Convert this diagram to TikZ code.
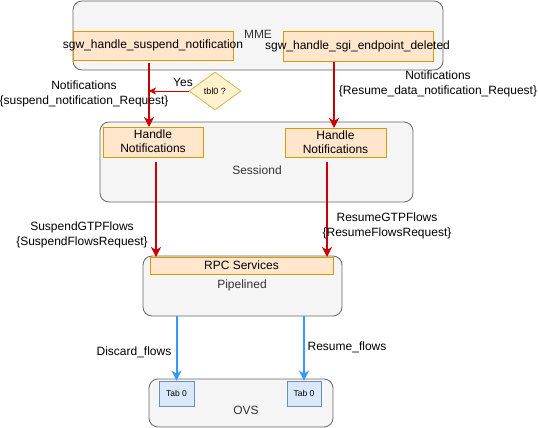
\documentclass[tikz,border=0pt]{standalone}
\usepackage{fontspec}
\setmainfont{Liberation Sans}
\usetikzlibrary{arrows.meta,shapes.geometric}
\definecolor{ofill}{HTML}{FFE6CC}
\definecolor{odraw}{HTML}{D79B00}
\definecolor{gfill}{HTML}{F5F5F5}
\definecolor{gdraw}{HTML}{666666}
\definecolor{gtext}{HTML}{333333}
\definecolor{yfill}{HTML}{FFF2CC}
\definecolor{ydraw}{HTML}{D6B656}
\definecolor{bfill}{HTML}{DAE8FC}
\definecolor{bdraw}{HTML}{6C8EBF}
\definecolor{redc}{HTML}{CC0000}
\definecolor{bluec}{HTML}{3399FF}
\tikzset{
  container/.style={draw=gdraw, fill=gfill, rounded corners=9pt, line width=0.8pt, inner sep=0pt},
  obox/.style={draw=odraw, fill=ofill, line width=0.8pt, inner sep=0pt},
  tabbox/.style={draw=bdraw, fill=bfill, line width=0.8pt, inner sep=0pt, font=\fontsize{8.5}{10}\selectfont},
  txt/.style={inner sep=0pt, font=\fontsize{12}{14}\selectfont, align=center},
  gtxt/.style={txt, text=gtext},
  lbl/.style={inner sep=0pt, font=\fontsize{12}{15}\selectfont, align=center},
  redarrow/.style={draw=redc, line width=2pt, -{Stealth[length=10pt,width=10pt,inset=3pt]}},
  bluearrow/.style={draw=bluec, line width=2pt, -{Stealth[length=10pt,width=10pt,inset=3pt]}},
  thinred/.style={draw=redc, line width=1pt, -{Stealth[length=7pt,width=7pt,inset=2pt]}},
  decision/.style={diamond, draw=ydraw, fill=yfill, line width=0.8pt, inner sep=0pt, aspect=1.37, minimum width=52pt, minimum height=38pt, font=\fontsize{9}{10}\selectfont}
}
\begin{document}
\begin{tikzpicture}[x=1pt,y=-1pt]
\useasboundingbox (0,0) rectangle (538,428);
% MME
\node[container, minimum width=370pt, minimum height=69pt] (mme) at (258,35.5) {};
\node[gtxt] (mmet) at (258,34) {MME};
\node[obox, minimum width=160pt, minimum height=29pt] (susp) at (153,45.5) {};
\node[txt] (suspt) at (153,45.5) {sgw\_handle\_suspend\_notification};
\node[obox, minimum width=150pt, minimum height=30pt] (sgi) at (358,46) {};
\node[txt] (sgit) at (357.5,46) {sgw\_handle\_sgi\_endpoint\_deleted};
% decision
\node[decision] (dia) at (215,91) {tbl0 ?};
% Sessiond
\node[container, minimum width=313pt, minimum height=80pt] (sess) at (256.5,162) {};
\node[gtxt] (sesst) at (257,170) {Sessiond};
\node[obox, minimum width=100pt, minimum height=30pt] (hn1) at (153,142) {};
\node[txt] (hn1t) at (153,141.5) {Handle\\Notifications};
\node[obox, minimum width=101pt, minimum height=29pt] (hn2) at (335.5,142.5) {};
\node[txt] (hn2t) at (335.5,142) {Handle\\Notifications};
% Pipelined
\node[container, minimum width=199pt, minimum height=60pt] (pip) at (242.5,286) {};
\node[obox, minimum width=183pt, minimum height=17pt] (rpc) at (241.5,265.5) {};
\node[txt] (rpct) at (241.5,265.5) {RPC Services};
\node[gtxt] (pipt) at (242,285) {Pipelined};
% OVS
\node[container, minimum width=184pt, minimum height=48pt] (ovs) at (241,403) {};
\node[gtxt] (ovst) at (246,410) {OVS};
\node[tabbox, minimum width=35pt, minimum height=25pt] (tab1) at (176.5,393.5) {Tab 0};
\node[tabbox, minimum width=34pt, minimum height=25pt] (tab2) at (304,393.5) {Tab 0};
% coordinates
\coordinate (a1s) at (149,63);
\coordinate (a1e) at (149,127);
\coordinate (a2s) at (334,62);
\coordinate (a2e) at (334,128);
\coordinate (j) at (149,91);
\coordinate (b1s) at (156,162);
\coordinate (b1e) at (156,257);
\coordinate (b2s) at (327,162);
\coordinate (b2e) at (327,257);
% arrows
\draw[redarrow] (a1s) -- (a1e);
\draw[redarrow] (a2s) -- (a2e);
\draw[thinred] (dia.west) -- (j);
\draw[redarrow] (b1s) -- (b1e);
\draw[redarrow] (b2s) -- (b2e);
\draw[bluearrow] (tab1.north |- pip.south) -- (tab1.north);
\draw[bluearrow] (tab2.north |- pip.south) -- (tab2.north);
% labels
\node[lbl] (yes) at (183,82) {Yes};
\node[lbl] (l1) at (84,93.5) {Notifications\\\{suspend\_notification\_Request\}};
\node[lbl] (l2) at (438,84) {Notifications\\\{Resume\_data\_notification\_Request\}};
\node[lbl] (l3) at (82,234.5) {SuspendGTPFlows\\\{SuspendFlowsRequest\}};
\node[lbl] (l4) at (387,225.5) {ResumeGTPFlows\\\{ResumeFlowsRequest\}};
\node[lbl] (l5) at (134,352) {Discard\_flows};
\node[lbl] (l6) at (347,347) {Resume\_flows};
\end{tikzpicture}
\end{document}
